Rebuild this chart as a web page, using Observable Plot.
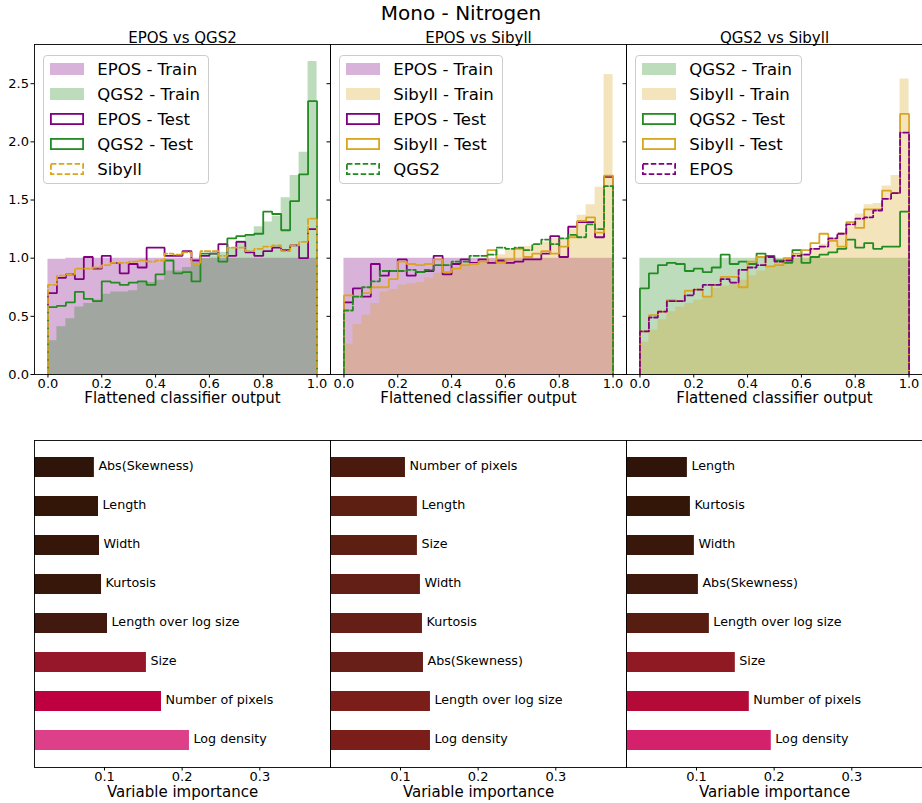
<!DOCTYPE html>
<html><head><meta charset="utf-8">
<script src="https://cdn.jsdelivr.net/npm/d3@7"></script>
<script src="https://cdn.jsdelivr.net/npm/@observablehq/plot@0.6"></script>
<style>
body{margin:0;background:#fff;}
#root{position:relative;width:922px;height:803px;overflow:hidden;font-family:"DejaVu Sans",sans-serif;color:#000;}
#root > svg{position:absolute;left:0;top:0;}
#suptitle{position:absolute;left:0;top:0;width:922px;text-align:center;font-size:20px;line-height:26px;}
#root .legend{position:absolute;background:rgba(255,255,255,0.8);border:1px solid #cccccc;border-radius:4px;box-sizing:border-box;}
#root .legend .row{position:absolute;left:0;height:25px;display:flex;align-items:center;font-size:16.5px;white-space:nowrap;}
#root .legend .row svg{position:static;display:block;margin-left:6px;margin-right:13px;flex:none;}
</style>
</head><body>
<div id="root"><div id="suptitle">Mono - Nitrogen</div></div>
<script>
// ---------- data ----------
const nBins = 30;
const xTicksTop = [0, 0.2, 0.4, 0.6, 0.8, 1.0];
const yTicksTop = [0, 0.5, 1.0, 1.5, 2.0, 2.5];
const xTicksBottom = [0.1, 0.2, 0.3];

const panelTitles = ["EPOS vs QGS2", "EPOS vs Sibyll", "QGS2 vs Sibyll"];

// Panel 1: EPOS vs QGS2
const p1EposTrain = [0.99,0.99,1.00,1.00,1.00,1.00,1.00,1.00,1.00,1.00,1.00,1.00,1.00,1.00,1.00,1.00,1.00,1.00,1.00,1.00,1.00,1.00,1.00,1.00,1.00,1.00,1.00,1.00,1.00,1.00];
const p1QgsTrain  = [0.29,0.41,0.48,0.58,0.61,0.64,0.69,0.71,0.71,0.72,0.79,0.79,0.81,0.89,0.89,0.92,0.96,1.00,1.02,1.05,1.09,1.15,1.20,1.27,1.31,1.36,1.52,1.71,1.91,2.69];
const p1EposTest  = [0.70,0.83,0.86,0.82,1.01,0.91,1.02,0.96,0.87,0.95,0.92,1.09,1.09,1.02,1.02,1.06,0.98,1.02,1.04,1.12,1.02,1.14,1.05,1.02,1.06,1.09,1.07,1.11,1.00,1.25];
const p1QgsTest   = [0.58,0.59,0.62,0.71,0.65,0.63,0.80,0.79,0.77,0.79,0.80,0.77,0.86,0.98,0.87,0.88,0.80,1.04,1.04,0.97,1.17,1.19,1.20,1.21,1.40,1.38,1.24,1.49,1.72,2.35];
const p1Sibyll    = [0.77,0.85,0.86,0.91,0.91,0.92,0.94,0.96,0.96,0.97,0.98,0.97,0.98,1.04,1.03,1.05,0.95,1.06,1.06,1.02,1.09,1.09,1.06,1.08,1.10,1.11,1.06,1.11,1.14,1.34];

// Panel 2: EPOS vs Sibyll
const p2EposTrain = [1.00,1.00,1.00,1.00,1.00,1.00,1.00,1.00,1.00,1.00,1.00,1.00,1.00,1.00,1.00,1.00,1.00,1.00,1.00,1.00,1.00,1.00,1.00,1.00,1.00,1.00,1.00,1.00,1.00,1.00];
const p2SibTrain  = [0.26,0.43,0.51,0.61,0.71,0.73,0.77,0.78,0.79,0.83,0.87,0.88,0.92,0.94,0.96,0.98,0.99,1.03,1.07,1.08,1.10,1.11,1.14,1.17,1.16,1.25,1.37,1.46,1.61,2.58];
const p2EposTest  = [0.62,0.74,0.67,0.95,0.85,0.89,0.99,0.85,0.88,0.89,1.02,0.86,0.95,0.99,0.96,0.99,0.96,0.98,0.96,0.97,0.99,0.99,1.04,1.19,1.01,1.27,1.31,1.31,1.18,1.70];
const p2SibTest   = [0.68,0.67,0.70,0.75,0.75,0.82,0.97,0.95,0.94,0.95,0.99,0.88,0.91,0.94,0.95,0.97,1.07,0.96,0.99,1.08,1.01,1.04,1.06,1.04,1.10,1.18,1.32,1.35,1.22,1.71];
const p2Qgs       = [0.55,0.67,0.75,0.80,0.89,0.89,0.89,0.90,0.88,0.90,0.94,0.94,0.97,0.97,1.02,1.02,1.03,1.09,1.08,1.09,1.07,1.12,1.16,1.12,1.17,1.20,1.18,1.29,1.25,1.62];

// Panel 3: QGS2 vs Sibyll
const p3QgsTrain  = [1.00,1.00,1.00,1.00,1.00,1.00,1.00,1.00,1.00,1.00,1.00,1.00,1.00,1.00,1.00,1.00,1.00,1.00,1.00,1.00,1.00,1.00,1.00,1.00,1.00,1.00,1.00,1.00,1.00,1.00];
const p3SibTrain  = [0.28,0.38,0.47,0.54,0.58,0.61,0.64,0.67,0.74,0.76,0.79,0.81,0.85,0.89,0.92,0.96,0.98,1.01,1.04,1.08,1.12,1.16,1.22,1.27,1.38,1.46,1.47,1.62,1.71,2.54];
const p3QgsTest   = [0.74,0.87,0.94,0.96,0.95,0.89,0.91,0.88,0.92,1.03,0.95,0.97,0.95,1.04,1.02,0.98,0.96,1.07,0.96,1.01,1.03,1.05,1.08,1.16,1.09,1.13,1.08,1.10,1.10,1.40];
const p3SibTest   = [0.37,0.51,0.54,0.64,0.63,0.72,0.73,0.67,0.77,0.84,0.84,0.75,0.97,1.01,0.93,0.94,1.00,1.04,1.07,1.13,1.21,1.15,1.10,1.31,1.26,1.42,1.42,1.58,1.56,2.24];
const p3Epos      = [0.37,0.49,0.54,0.63,0.63,0.68,0.73,0.77,0.77,0.82,0.79,0.90,0.92,0.94,1.01,0.97,0.98,1.02,1.03,1.08,1.10,1.17,1.21,1.29,1.34,1.35,1.41,1.51,1.56,2.08];

// Variable importance
const impNames1 = ["Abs(Skewness)","Length","Width","Kurtosis","Length over log size","Size","Number of pixels","Log density"];
const impVals1  = [0.087,0.0923,0.0936,0.0962,0.1039,0.154,0.1734,0.2094];
const impNames2 = ["Number of pixels","Length","Size","Width","Kurtosis","Abs(Skewness)","Length over log size","Log density"];
const impVals2  = [0.1064,0.1218,0.1218,0.1257,0.1283,0.1296,0.1386,0.1386];
const impNames3 = ["Length","Kurtosis","Width","Abs(Skewness)","Length over log size","Size","Number of pixels","Log density"];
const impVals3  = [0.0883,0.0922,0.0973,0.1025,0.1166,0.150,0.168,0.1963];

// colour map (value -> colour) for importance bars
const cmapDomain = [0.087,0.0936,0.1039,0.1064,0.1218,0.1296,0.1386,0.150,0.154,0.168,0.1734,0.196,0.209];
const cmapRange  = ["#2f1409","#351609","#42190f","#4a1a0e","#5e1f13","#681f17","#7b1e1a","#8f1a23","#97172a","#b30a37","#bf0040","#d4206a","#dd3f88"];

// ---------- styling ----------
const PURPLE = "#800080", GREEN = "#228b22", GOLD = "#daa520";
const W = 922, H = 803;
const frameLefts = [34, 330, 626];
const frameW = 296;
const FONT = "DejaVu Sans";

const root = document.getElementById("root");

function areaOf(vals){
  const pts = vals.map((v,i)=>({x:i/nBins, v}));
  pts.push({x:1, v:vals[vals.length-1]});
  return pts;
}
function stepOf(vals){
  const pts = [{x:0, v:0}];
  vals.forEach((v,i)=>pts.push({x:i/nBins, v}));
  pts.push({x:1, v:vals[vals.length-1]});
  pts.push({x:1, v:0});
  return pts;
}

const panels = [
  {fills:[{v:p1EposTrain,c:PURPLE,l:"EPOS - Train"},{v:p1QgsTrain,c:GREEN,l:"QGS2 - Train"}],
   lines:[{v:p1EposTest,c:PURPLE,l:"EPOS - Test"},{v:p1QgsTest,c:GREEN,l:"QGS2 - Test"},{v:p1Sibyll,c:GOLD,l:"Sibyll",dash:true}],
   legendLeft:43.3, legendW:166},
  {fills:[{v:p2EposTrain,c:PURPLE,l:"EPOS - Train"},{v:p2SibTrain,c:GOLD,l:"Sibyll - Train"}],
   lines:[{v:p2EposTest,c:PURPLE,l:"EPOS - Test"},{v:p2SibTest,c:GOLD,l:"Sibyll - Test"},{v:p2Qgs,c:GREEN,l:"QGS2",dash:true}],
   legendLeft:339.3, legendW:164},
  {fills:[{v:p3QgsTrain,c:GREEN,l:"QGS2 - Train"},{v:p3SibTrain,c:GOLD,l:"Sibyll - Train"}],
   lines:[{v:p3QgsTest,c:GREEN,l:"QGS2 - Test"},{v:p3SibTest,c:GOLD,l:"Sibyll - Test"},{v:p3Epos,c:PURPLE,l:"EPOS",dash:true}],
   legendLeft:635.3, legendW:166.7}
];

const baseStyle = {background:"transparent", fontFamily:FONT, fontSize:"13px", color:"black", overflow:"visible"};

panels.forEach((p, k) => {
  const L = frameLefts[k];
  const marks = [];
  p.fills.forEach(f => marks.push(Plot.areaY(areaOf(f.v), {x:"x", y:"v", curve:"step-after", fill:f.c, fillOpacity:0.3})));
  p.lines.forEach(l => marks.push(Plot.line(stepOf(l.v), {x:"x", y:"v", curve:"step-after", stroke:l.c, strokeWidth:1.8, strokeLinejoin:"miter", strokeDasharray: l.dash ? "5.5,2.4" : undefined})));
  marks.push(Plot.frame({stroke:"black", strokeWidth:0.9}));
  marks.push(Plot.text([panelTitles[k]], {frameAnchor:"top", lineAnchor:"middle", dy:-6, fontSize:15}));
  marks.push(Plot.text(["Flattened classifier output"], {frameAnchor:"bottom", lineAnchor:"middle", dy:24, fontSize:15}));
  const svg = Plot.plot({
    width:W, height:H,
    marginLeft:L, marginRight:W-L-frameW, marginTop:44, marginBottom:H-374,
    x:{domain:[-0.05,1.05], ticks:xTicksTop, tickFormat:d3.format(".1f"), tickSize:3.5, tickPadding:0.5, label:null},
    y:{domain:[0,2.837], ticks:yTicksTop, tickFormat: k===0 ? d3.format(".1f") : () => "", tickSize:3.5, tickPadding:2, label:null},
    style:baseStyle,
    marks
  });
  root.appendChild(svg);

  // legend
  const box = document.createElement("div");
  box.className = "legend";
  box.style.left = p.legendLeft + "px";
  box.style.top = "55px";
  box.style.width = p.legendW + "px";
  box.style.height = "129px";
  const items = [
    ...p.fills.map(f=>({label:f.l, color:f.c, kind:"fill"})),
    ...p.lines.map(l=>({label:l.l, color:l.c, kind:l.dash?"dash":"line"}))
  ];
  items.forEach((it, i) => {
    const row = document.createElement("div");
    row.className = "row";
    row.style.top = (0.5 + 25*i) + "px";
    const ns = "http://www.w3.org/2000/svg";
    const s = document.createElementNS(ns, "svg");
    s.setAttribute("width", 34); s.setAttribute("height", 12);
    const r = document.createElementNS(ns, "rect");
    if (it.kind === "fill") {
      r.setAttribute("x",0); r.setAttribute("y",0); r.setAttribute("width",34); r.setAttribute("height",12);
      r.setAttribute("fill", it.color); r.setAttribute("fill-opacity", 0.3);
    } else {
      r.setAttribute("x",0.9); r.setAttribute("y",0.9); r.setAttribute("width",32.2); r.setAttribute("height",10.2);
      r.setAttribute("fill","white"); r.setAttribute("stroke", it.color); r.setAttribute("stroke-width",1.8);
      if (it.kind === "dash") r.setAttribute("stroke-dasharray","5.5,2.4");
    }
    s.appendChild(r);
    row.appendChild(s);
    const t = document.createElement("span");
    t.textContent = it.label;
    row.appendChild(t);
    box.appendChild(row);
  });
  root.appendChild(box);
});

// ---------- bottom: variable importance ----------
const impSets = [[impNames1, impVals1],[impNames2, impVals2],[impNames3, impVals3]];
impSets.forEach(([names, vals], k) => {
  const L = frameLefts[k];
  const data = names.map((name,i)=>({name, v:vals[i]}));
  const svg = Plot.plot({
    width:W, height:H,
    marginLeft:L, marginRight:W-L-frameW, marginTop:440, marginBottom:H-767,
    x:{domain:[0.0099,0.391], ticks:xTicksBottom, tickFormat:d3.format(".1f"), tickSize:3.5, tickPadding:1, label:null},
    y:{domain:names, axis:null, paddingInner:0.5, paddingOuter:0.375},
    color:{type:"linear", domain:cmapDomain, range:cmapRange, interpolate:"rgb"},
    style:baseStyle,
    marks:[
      Plot.barX(data, {x1:0, x2:"v", y:"name", fill:"v", clip:true}),
      Plot.text(data, {x:"v", y:"name", text:"name", textAnchor:"start", dx:4, dy:-2, fontSize:12.7, fill:"black"}),
      Plot.frame({stroke:"black", strokeWidth:0.9}),
      Plot.text(["Variable importance"], {frameAnchor:"bottom", lineAnchor:"middle", dy:25, fontSize:15})
    ]
  });
  root.appendChild(svg);
});
</script>
</body></html>
